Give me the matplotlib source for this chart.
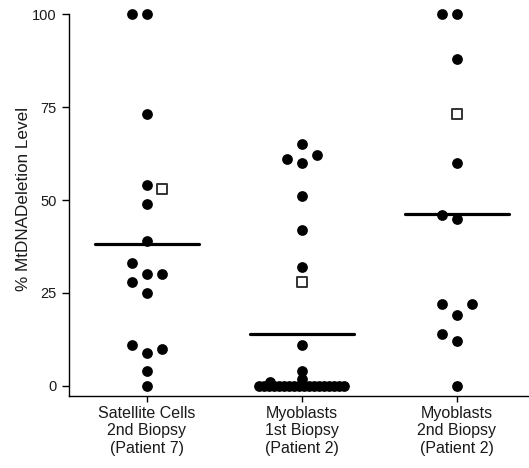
import numpy as np
import matplotlib
matplotlib.use("Agg")
import matplotlib.pyplot as plt

plt.rcParams['font.family'] = ['Liberation Sans', 'DejaVu Sans']

# ---- data ----
categories = ["Satellite Cells\n2nd Biopsy\n(Patient 7)",
              "Myoblasts\n1st Biopsy\n(Patient 2)",
              "Myoblasts\n2nd Biopsy\n(Patient 2)"]

sat_values = [100, 100, 73, 54, 49, 39, 33, 30, 30, 28, 25, 11, 10, 9, 4, 0]
sat_square = 53

myo1_values = [65, 62, 61, 60, 51, 42, 32, 11, 4, 2, 1]
myo1_zero_count = 18
myo1_square = 28

myo2_values = [100, 100, 88, 60, 46, 45, 22, 22, 19, 14, 12, 0]
myo2_square = 73

ytick_values = [0, 25, 50, 75, 100]

# ---- layout (horizontal slots for the swarm; not data) ----
slot_w = 0.097
sat_slots = [-1, 0, 0, 0, 0, 0, -1, 0, 1, -1, 0, -1, 1, 0, 0, 0]
sat_sq_slot = 1
myo1_slots = [0, 1, -1, 0, 0, 0, 0, 0, 0, 0, -2.1]
myo1_sq_slot = 0
myo2_slots = [-1, 0, 0, 0, -1, 0, -1, 1, 0, -1, 0, 0]
myo2_sq_slot = 0

fig = plt.figure(figsize=(5.29, 4.68), dpi=100)
ax = fig.add_axes([0.1304, 0.1538, 0.8696, 0.8162])

dot_kw = dict(marker='o', s=60, color='black', linewidths=0, zorder=3, clip_on=False)
sq_kw = dict(marker='s', s=44, facecolors='white', edgecolors='#333333',
             linewidths=1.4, zorder=4, clip_on=False)

groups = [
    (sat_values, sat_slots, sat_square, sat_sq_slot, []),
    (myo1_values, myo1_slots, myo1_square, myo1_sq_slot, [0] * myo1_zero_count),
    (myo2_values, myo2_slots, myo2_square, myo2_sq_slot, []),
]

for i, (vals, slots, sq, sq_slot, zeros) in enumerate(groups):
    xs = [i + s * slot_w for s in slots]
    ax.scatter(xs, vals, **dot_kw)
    if zeros:
        zx = i + np.linspace(-2.85, 2.8, len(zeros)) * slot_w
        ax.scatter(zx, zeros, **dot_kw)
    ax.scatter([i + sq_slot * slot_w], [sq], **sq_kw)
    allv = list(vals) + list(zeros) + [sq]
    m = np.mean(allv)
    ax.plot([i - 0.335, i + 0.335], [m, m], color='black', lw=2.3, zorder=2,
            solid_capstyle='round')

ax.set_xlim(-0.5, 2.465)
ax.set_ylim(-2.7, 100)
ax.set_xticks(range(len(categories)))
ax.set_xticklabels(categories, fontsize=11.5, color='#1a1a1a', linespacing=1.2)
ax.set_yticks(ytick_values)
ax.set_yticklabels([str(v) for v in ytick_values], fontsize=10.5, color='#1a1a1a')
ax.set_ylabel("% MtDNADeletion Level", fontsize=12.3, color='#1a1a1a')
ax.yaxis.set_label_coords(-0.083, 0.517)

for side in ['top', 'right']:
    ax.spines[side].set_visible(False)
for side in ['left', 'bottom']:
    ax.spines[side].set_linewidth(1.0)
    ax.spines[side].set_color('black')
ax.tick_params(axis='y', direction='out', length=5, width=1.0, color='black', pad=4)
ax.tick_params(axis='x', direction='out', length=4, width=1.0, color='black', pad=3)

fig.savefig("out.png", dpi=100)
